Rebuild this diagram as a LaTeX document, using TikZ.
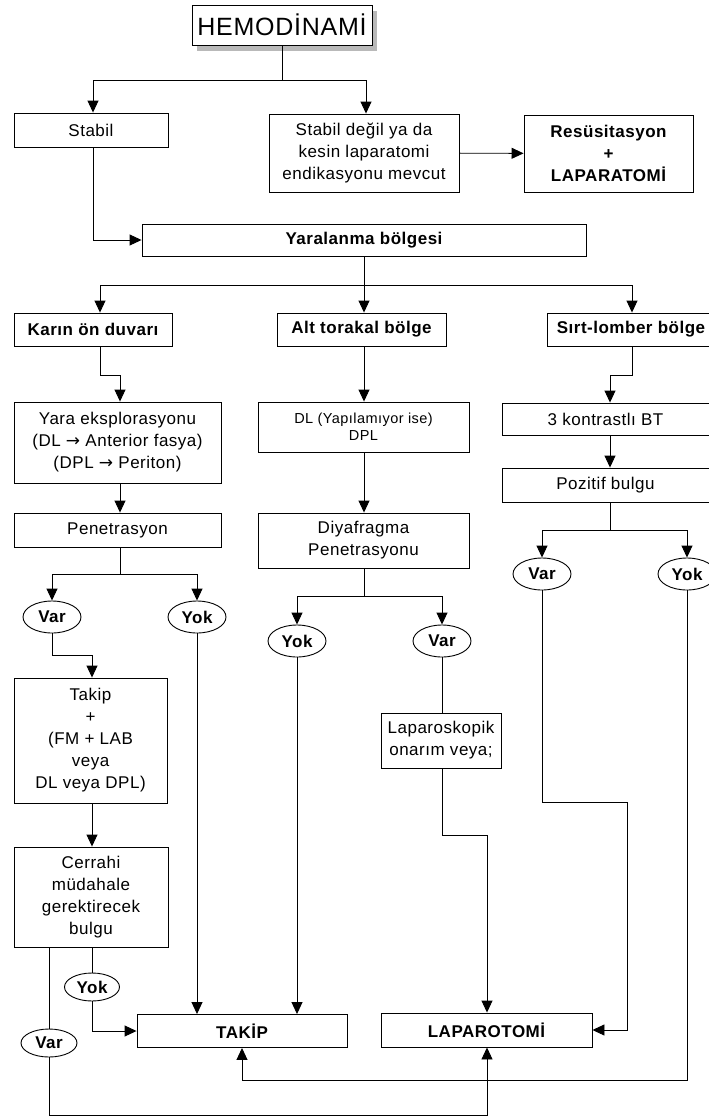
\documentclass[tikz,border=0pt]{standalone}
\usepackage{fontspec}
\setmainfont{Liberation Sans}[LetterSpace=3]
\newfontfamily\arrowfont{DejaVu Sans}
\newcommand{\rarr}{{\arrowfont →}}
\usetikzlibrary{arrows.meta,shapes.geometric,shadows}
\begin{document}
\begin{tikzpicture}[x=1pt,y=-1pt,
  box/.style={draw, line width=0.9pt, fill=white, inner sep=0pt, align=center, font=\fontsize{17}{22}\selectfont},
  bbox/.style={box, font=\fontsize{17}{22}\selectfont\bfseries},
  oval/.style={draw, ellipse, line width=0.9pt, fill=white, inner sep=0pt, minimum width=58pt, minimum height=32pt, font=\fontsize{17}{20}\selectfont\bfseries},
  conn/.style={line width=0.9pt},
  arr/.style={conn, -{Triangle[length=12pt,width=11pt]}},
]
\useasboundingbox (0,0) rectangle (709,1117);
\clip (0,0) rectangle (709,1117);
\fill[white] (0,0) rectangle (709,1117);

% nodes
\node[box, minimum width=180pt, minimum height=40pt, font=\fontsize{25}{28}\selectfont,
      drop shadow={shadow xshift=5pt, shadow yshift=-6pt, fill=gray!55, opacity=1}] (hemo) at (282,25) {HEMODİNAMİ};
\node[box, minimum width=154pt, minimum height=34pt] (stabil) at (91,130) {Stabil};
\node[box, minimum width=190pt, minimum height=78pt] (unst) at (364,153) {Stabil değil ya da\\kesin laparatomi\\endikasyonu mevcut};
\node[bbox, minimum width=169pt, minimum height=77pt] (resus) at (608.5,153.5) {Resüsitasyon\\+\\LAPARATOMİ};
\node[bbox, minimum width=444pt, minimum height=32pt] (yaral) at (364,240) {Yaralanma bölgesi};

\node[bbox, minimum width=158pt, minimum height=33pt] (karin) at (93,329.5) {Karın ön duvarı};
\node[bbox, minimum width=169pt, minimum height=33pt] (alt) at (361.5,329.5) {Alt torakal bölge};
\node[bbox, minimum width=168pt, minimum height=33pt] (sirt) at (631,329.5) {Sırt-lomber bölge};

\node[box, minimum width=207pt, minimum height=81pt] (yara) at (117.5,442.5) {Yara eksplorasyonu\\(DL \rarr{} Anterior fasya)\\(DPL \rarr{} Periton)};
\node[box, minimum width=211pt, minimum height=50pt, font=\fontsize{14.5}{17}\selectfont] (dl) at (363.5,427) {DL (Yapılamıyor ise)\\DPL};
\node[box, minimum width=207pt, minimum height=32pt] (bt) at (605.5,419) {3 kontrastlı BT};
\node[box, minimum width=207pt, minimum height=34pt] (penet) at (117.5,530) {Penetrasyon};
\node[box, minimum width=211pt, minimum height=55pt] (diyaf) at (363.5,540.5) {Diyafragma\\Penetrasyonu};
\node[box, minimum width=207pt, minimum height=34pt] (poz) at (605.5,485) {Pozitif bulgu};

\node[oval] (var1) at (52,617) {Var};
\node[oval] (yok1) at (197,617) {Yok};
\node[oval] (yok2) at (297,641) {Yok};
\node[oval] (var2) at (442,641) {Var};
\node[oval] (var3) at (542,574) {Var};
\node[oval] (yok3) at (687,574) {Yok};

\node[box, minimum width=153pt, minimum height=125pt] (takip1) at (90.5,740.5) {Takip\\+\\(FM + LAB\\veya\\DL veya DPL)};
\node[box, minimum width=120pt, minimum height=55pt] (lapsk) at (441,740.5) {Laparoskopik\\onarım veya;};
\node[box, minimum width=154pt, minimum height=100pt] (cerr) at (91,897) {Cerrahi\\müdahale\\gerektirecek\\bulgu};
\node[oval, minimum width=55pt, minimum height=28pt] (yok4) at (92,987) {Yok};
\node[oval, minimum width=56pt, minimum height=28pt] (var5) at (49,1043) {Var};

\node[bbox, minimum width=210pt, minimum height=33pt] (takipF) at (242,1031) {TAKİP};
\node[bbox, minimum width=211pt, minimum height=34pt] (lapF) at (486.5,1030) {LAPAROTOMİ};

% helper coordinates
\coordinate (h1) at (282,80);
\coordinate (y1) at (364,285);
\coordinate (k1) at (100,375);
\coordinate (k2) at (120,375);
\coordinate (s1) at (632,375);
\coordinate (s2) at (610,375);
\coordinate (p1) at (610,530);
\coordinate (q1) at (120,574);
\coordinate (d1) at (364,596);
\coordinate (v2) at (92,655);
\coordinate (l1) at (487,835);
\coordinate (r1) at (627,802);
\coordinate (b1) at (687,1080);
\coordinate (b2) at (487,1115);

% connectors
\draw[conn] (hemo.south) -- (h1);
\draw[arr] (h1) -| (stabil.north -| 93,0);
\draw[arr] (h1) -| (unst.north -| 366,0);
\draw[arr] (unst) -- (resus);
\draw[arr] (stabil.south -| 93,0) |- (yaral.west);

\draw[conn] (yaral.south -| y1) -- (y1);
\draw[arr] (y1) -| (karin.north -| k1);
\draw[arr] (y1) -- (y1 |- alt.north);
\draw[arr] (y1) -| (sirt.north -| s1);

\draw[arr] (karin.south -| k1) -- (k1) -- (k2) -- (k2 |- yara.north);
\draw[arr] (y1 |- alt.south) -- (y1 |- dl.north);
\draw[arr] (sirt.south -| s1) -- (s1) -- (s2) -- (s2 |- bt.north);

\draw[arr] (k2 |- yara.south) -- (k2 |- penet.north);
\draw[arr] (y1 |- dl.south) -- (y1 |- diyaf.north);
\draw[arr] (s2 |- bt.south) -- (s2 |- poz.north);

\draw[conn] (k2 |- penet.south) -- (q1);
\draw[arr] (q1) -| (var1.north);
\draw[arr] (q1) -| (yok1.north);

\draw[conn] (y1 |- diyaf.south) -- (d1);
\draw[arr] (d1) -| (yok2.north);
\draw[arr] (d1) -| (var2.north);

\draw[conn] (s2 |- poz.south) -- (p1);
\draw[arr] (p1) -| (var3.north);
\draw[arr] (p1) -| (yok3.north);

\draw[arr] (var1.south) |- (v2) -- (v2 |- takip1.north);
\draw[arr] (v2 |- takip1.south) -- (v2 |- cerr.north);
\draw[arr] (yok1.south) -- (yok1.south |- takipF.north);
\draw[arr] (yok2.south) -- (yok2.south |- takipF.north);
\draw[conn] (var2.south) -- (lapsk.north -| var2);
\draw[arr] (lapsk.south -| var2) |- (l1) -- (l1 |- lapF.north);
\draw[arr] (var3.south) |- (r1) |- (lapF.east);
\draw[arr] (yok3.south) -- (b1) -| (takipF.south);

\draw[conn] (cerr.south -| yok4) -- (yok4.north);
\draw[arr] (yok4.south) |- (takipF.west);
\draw[conn] (cerr.south -| var5) -- (var5.north);
\draw[arr] (var5.south) |- (b2) -- (b2 |- lapF.south);
\end{tikzpicture}
\end{document}
